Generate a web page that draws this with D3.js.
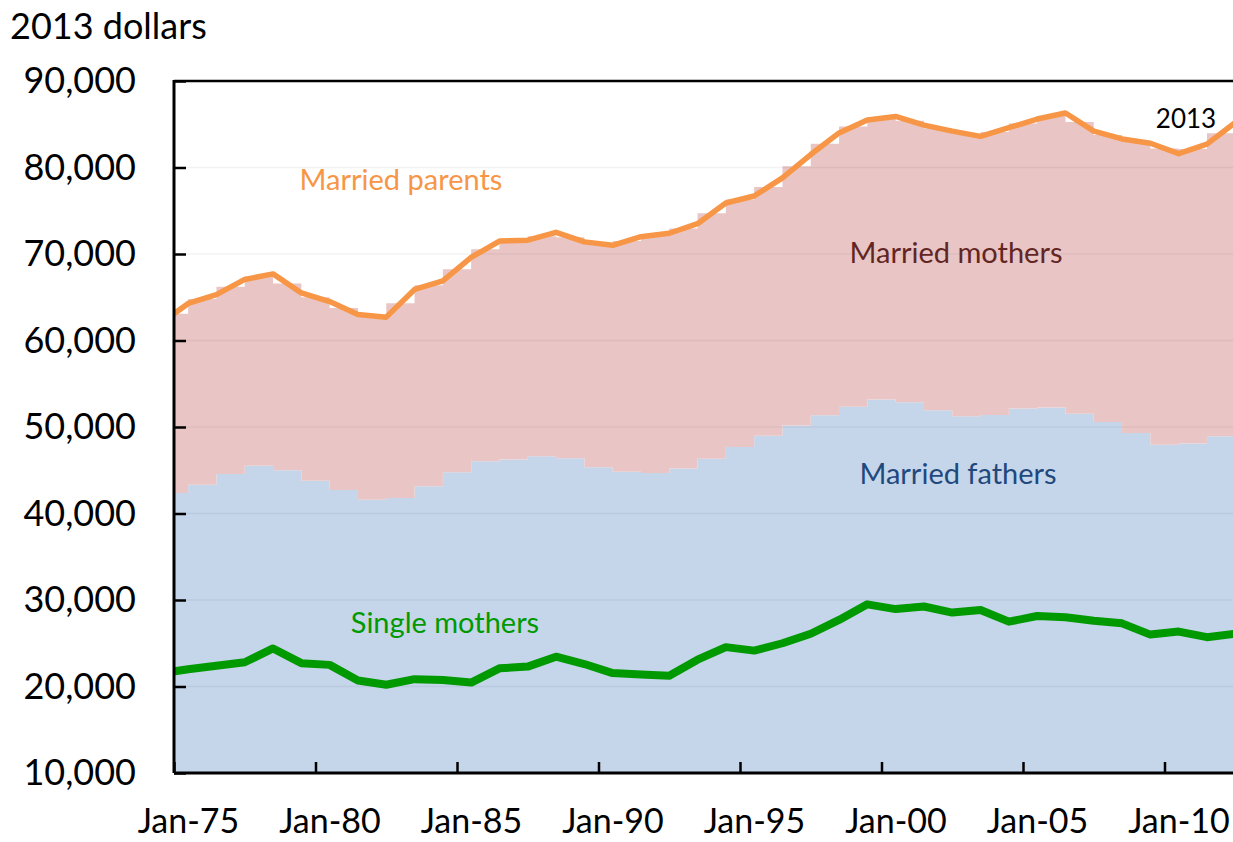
<!DOCTYPE html>
<html>
<head>
<meta charset="utf-8">
<script src="https://cdn.jsdelivr.net/npm/d3@7"></script>
<style>
  body { margin: 0; background: #fff; }
  svg { display: block; font-family: Lato, "Open Sans", sans-serif; }
</style>
</head>
<body>
<svg id="chart" width="1233" height="842"></svg>
<script>
// Line series, one value per year (plotted at the middle of the year band)
const lineYears = d3.range(1975, 2014);
const marriedParents = [
    61900, 64280, 65300, 67060, 67700, 65500, 64500, 63000, 62700, 65900,
    66900, 69600, 71500, 71600, 72500, 71400, 71000, 72000, 72400, 73500,
    75900, 76700, 78800, 81500, 84000, 85500, 85900, 84900, 84200, 83600,
    84600, 85600, 86300, 84200, 83300, 82800, 81600, 82700, 85200
];
const singleMothers = [
    21500, 22000, 22400, 22800, 24400, 22700, 22500, 20700, 20200, 20850,
    20750, 20450, 22100, 22300, 23450, 22600, 21550, 21400, 21250, 23100,
    24550, 24150, 25000, 26100, 27700, 29500, 28950, 29250, 28550, 28850,
    27500, 28150, 28000, 27600, 27300, 26000, 26350, 25700, 26100
];

// Stacked area series, one step per year centred on January
const areaYears = d3.range(1975, 2013);
const marriedFathers = [
    42370, 43330, 44570, 45530, 44990, 43800, 42720, 41600, 41790, 43140,
    44760, 46030, 46230, 46610, 46380, 45340, 44840, 44690, 45190, 46340,
    47690, 49000, 50160, 51360, 52330, 53170, 52860, 51930, 51240, 51400,
    52150, 52250, 51520, 50590, 49320, 47960, 48080, 48920
];
const marriedMothers = [
    20730, 21470, 21630, 21870, 21610, 21200, 21030, 21250, 22510, 23260,
    23490, 24520, 25320, 25440, 25570, 25860, 26660, 27510, 27760, 28360,
    28610, 28750, 29990, 31390, 32420, 32530, 32540, 32620, 32660, 32700,
    32950, 33700, 33730, 33160, 33730, 34240, 34070, 35030
];

const yTicks = [10000, 20000, 30000, 40000, 50000, 60000, 70000, 80000, 90000];
const xTicks = [1975, 1980, 1985, 1990, 1995, 2000, 2005, 2010];

const svg = d3.select('#chart');
const plotLeft = 174, plotTop = 81, plotBottom = 773;
const plotRight = plotLeft + 38 * 28.3;

const x = d3.scaleLinear().domain([1975, 2013]).range([plotLeft, plotRight]);
const y = d3.scaleLinear().domain([10000, 90000]).range([plotBottom, plotTop]);

svg.append('clipPath').attr('id', 'plot')
    .append('rect')
    .attr('x', plotLeft).attr('y', plotTop)
    .attr('width', plotRight - plotLeft).attr('height', plotBottom - plotTop);

const plot = svg.append('g').attr('clip-path', 'url(#plot)');

// Areas (stepAfter from mid-year before to mid-year after each January)
const areaData = areaYears.map((yr, i) => ({
    year: yr, fathers: marriedFathers[i], mothers: marriedMothers[i]
}));
// repeat the last step so it gets a right edge
const last = areaData[areaData.length - 1];
areaData.push({ ...last, year: last.year + 1 });

const stacked = d3.stack().keys(['fathers', 'mothers'])(areaData);
const area = d3.area()
    .curve(d3.curveStepAfter)
    .x(d => x(d.data.year - 0.5))
    .y0(d => y(Math.max(d[0], 10000)))
    .y1(d => y(d[1]));
const areaColors = { fathers: '#c5d5ea', mothers: '#e9c6c5' };

plot.selectAll('.area')
    .data(stacked)
    .join('path')
    .attr('class', 'area')
    .attr('fill', d => areaColors[d.key])
    .attr('d', area);

// Gridlines
plot.selectAll('.grid')
    .data(yTicks.slice(1, -1))
    .join('line')
    .attr('class', 'grid')
    .attr('x1', plotLeft).attr('x2', plotRight)
    .attr('y1', d => y(d)).attr('y2', d => y(d))
    .attr('stroke', '#000')
    .attr('stroke-opacity', 0.05)
    .attr('stroke-width', 1.5);

// Lines
const line = d3.line()
    .x(d => x(d[0] - 0.5))
    .y(d => y(d[1]));

plot.append('path')
    .datum(lineYears.map((yr, i) => [yr, singleMothers[i]]))
    .attr('fill', 'none')
    .attr('stroke', '#009900')
    .attr('stroke-width', 8)
    .attr('stroke-linejoin', 'round')
    .attr('d', line);

plot.append('path')
    .datum(lineYears.map((yr, i) => [yr, marriedParents[i]]))
    .attr('fill', 'none')
    .attr('stroke', '#f79646')
    .attr('stroke-width', 5.5)
    .attr('stroke-linejoin', 'round')
    .attr('d', line);

// Top border
svg.append('line')
    .attr('x1', plotLeft).attr('x2', 1240)
    .attr('y1', plotTop).attr('y2', plotTop)
    .attr('stroke', '#000')
    .attr('stroke-width', 2.5);

// Axes
const yAxis = svg.append('g')
    .attr('transform', `translate(${plotLeft},0)`)
    .call(d3.axisLeft(y)
        .tickValues(yTicks)
        .tickFormat(d3.format(','))
        .tickSizeInner(-12)
        .tickSizeOuter(0)
        .tickPadding(38));

const xAxis = svg.append('g')
    .attr('transform', `translate(0,${plotBottom})`)
    .call(d3.axisBottom(x)
        .tickValues(xTicks)
        .tickFormat(d => 'Jan-' + String(d).slice(2))
        .tickSizeInner(-11)
        .tickSizeOuter(0));

[yAxis, xAxis].forEach(ax => {
    ax.select('.domain').attr('stroke', '#000').attr('stroke-width', 3);
    ax.selectAll('.tick line').attr('stroke', '#000').attr('stroke-width', 2.5);
    ax.selectAll('.tick text')
        .attr('fill', '#000')
        .style('font-family', 'Lato, sans-serif');
});

yAxis.selectAll('.tick text').style('font-size', '36px');
xAxis.selectAll('.tick text')
    .style('font-size', '34px')
    .attr('x', 14)
    .attr('y', 60)
    .attr('dy', null);

xAxis.select('.domain').attr('d', `M${plotLeft},0H1240`);
yAxis.select('.domain').attr('d', `M0,${plotBottom}V${plotTop - 1}`);

// Title and series labels
svg.append('text')
    .attr('x', 10).attr('y', 39)
    .style('font-size', '36px')
    .text('2013 dollars');

const labels = [
    { text: 'Married parents', x: 401, y: 190, color: '#f79646' },
    { text: 'Married mothers', x: 956, y: 263, color: '#632523' },
    { text: 'Married fathers', x: 958, y: 484, color: '#1f497d' },
    { text: 'Single mothers', x: 445, y: 633, color: '#009900' }
];
svg.selectAll('.label')
    .data(labels)
    .join('text')
    .attr('class', 'label')
    .attr('x', d => d.x).attr('y', d => d.y)
    .attr('text-anchor', 'middle')
    .attr('fill', d => d.color)
    .style('font-size', '29px')
    .text(d => d.text);

svg.append('text')
    .attr('x', 1186).attr('y', 128)
    .attr('text-anchor', 'middle')
    .style('font-size', '26px')
    .text('2013');
</script>
</body>
</html>
